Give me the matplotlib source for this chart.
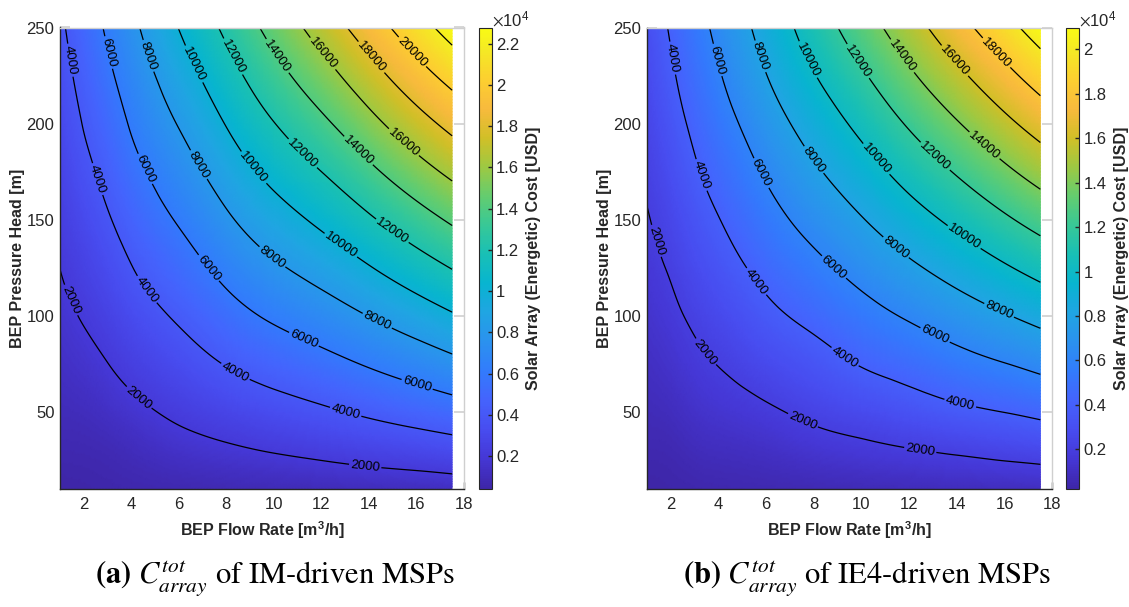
import numpy as np
import matplotlib
matplotlib.use("Agg")
import matplotlib.pyplot as plt
import matplotlib.tri as mtri
from matplotlib.colors import LinearSegmentedColormap
from matplotlib.ticker import FuncFormatter

plt.rcParams["font.family"] = ["Liberation Sans", "DejaVu Sans"]
plt.rcParams["mathtext.fontset"] = "stix"

# Data ────────────────────────────────────────────────────────────────────────
flow_rate = [1, 2, 3, 4, 6, 8, 10, 12, 14, 16, 17.5]              # m3/h
head = [10, 30, 50, 75, 100, 125, 150, 175, 200, 225, 250]        # m

# one row per flow rate, values along head (USD)
cost_im = [
    [420, 697, 974, 1320, 1667, 2010, 2350, 2690, 3030, 3370, 3710],
    [480, 720, 1092, 1604, 2112, 2605, 3099, 3592, 4077, 4526, 4975],
    [540, 837, 1347, 1985, 2610, 3235, 3858, 4463, 5063, 5663, 6247],
    [600, 1045, 1665, 2432, 3192, 3952, 4696, 5436, 6166, 6856, 7545],
    [700, 1480, 2279, 3249, 4219, 5189, 6159, 7129, 8099, 9069, 10039],
    [800, 1800, 2811, 4081, 5316, 6531, 7731, 8916, 10086, 11241, 12384],
    [880, 2096, 3296, 4796, 6276, 7731, 9161, 10566, 11951, 13316, 14667],
    [970, 2378, 3753, 5433, 7098, 8748, 10383, 12003, 13613, 15213, 16834],
    [1080, 2687, 4262, 6162, 8042, 9902, 11760, 13600, 15420, 17220, 19000],
    [1150, 2972, 4765, 6915, 9040, 11135, 13200, 15240, 17250, 19230, 21185],
    [1250, 3221, 5164, 7531, 9834, 12079, 14267, 16417, 18540, 20647, 22790],
]
cost_ie4 = [
    [220, 463, 705, 1008, 1310, 1613, 1915, 2184, 2439, 2694, 2953],
    [300, 521, 861, 1286, 1711, 2132, 2545, 2957, 3370, 3785, 4150],
    [360, 755, 1177, 1705, 2232, 2760, 3287, 3814, 4313, 4795, 5279],
    [420, 888, 1398, 2036, 2673, 3311, 3949, 4582, 5215, 5848, 6427],
    [500, 1082, 1801, 2706, 3611, 4484, 5337, 6197, 7077, 7958, 8690],
    [580, 1420, 2305, 3340, 4440, 5538, 6638, 7739, 8826, 9913, 10910],
    [660, 1680, 2740, 4091, 5348, 6623, 7903, 9188, 10478, 11763, 13043],
    [740, 1930, 3200, 4691, 6192, 7693, 9196, 10697, 12198, 13700, 15162],
    [820, 2180, 3660, 5361, 7044, 8744, 10449, 12159, 13869, 15574, 17270],
    [890, 2430, 4023, 5958, 7888, 9813, 11733, 13648, 15553, 17448, 19337],
    [940, 2620, 4353, 6453, 8543, 10623, 12693, 14753, 16808, 18858, 20900],
]

color_limits_im = (420, 22790)
color_limits_ie4 = (220, 20990)
contour_levels = list(range(2000, 24000, 2000))

# where the contour labels sit (flow rate, head)
labels_im = [(1.44, 108), (4.17, 55), (13.84, 21.4),
             (1.44, 233), (2.56, 171), (4.59, 113), (8.3, 69), (13.0, 49),
             (3.05, 237), (4.52, 176), (7.18, 124), (11.24, 87), (16.0, 63),
             (4.66, 235), (6.76, 178), (9.9, 130), (14.26, 95),
             (6.48, 230), (9.14, 177), (12.78, 136),
             (8.3, 235), (11.1, 183), (15.03, 145),
             (10.13, 235), (13.49, 185),
             (12.02, 236), (15.45, 190),
             (14.05, 234), (15.8, 237)]
labels_ie4 = [(1.4, 139), (3.44, 81), (7.56, 46), (12.45, 29),
              (2.04, 234), (3.23, 173), (5.61, 118), (9.3, 78.5), (14.14, 54.5),
              (3.93, 233), (5.76, 174), (8.82, 125), (13.01, 88),
              (5.76, 235), (7.98, 181), (11.41, 135), (15.74, 102),
              (7.71, 233), (10.57, 181), (14.41, 143),
              (9.8, 232), (13.05, 182.5),
              (11.69, 235), (15.11, 188),
              (13.85, 232),
              (15.67, 237)]

captions = [r"$\mathbf{(a)}$ $C_{array}^{tot}$ of IM-driven MSPs",
            r"$\mathbf{(b)}$ $C_{array}^{tot}$ of IE4-driven MSPs"]

# parula-like colormap
parula_anchors = [
    (0.2422, 0.1504, 0.6603), (0.2706, 0.2147, 0.8364), (0.2813, 0.3006, 0.9414),
    (0.2699, 0.3892, 0.9906), (0.1963, 0.4847, 0.9892), (0.1687, 0.5703, 0.9359),
    (0.1248, 0.6459, 0.8883), (0.0297, 0.7082, 0.8163), (0.0964, 0.7500, 0.7120),
    (0.2161, 0.7843, 0.5923), (0.3909, 0.8029, 0.4354), (0.6174, 0.7876, 0.2612),
    (0.8203, 0.7498, 0.1535), (0.9728, 0.7298, 0.2394), (0.9892, 0.8136, 0.1885),
    (0.9597, 0.9135, 0.1423), (0.9769, 0.9839, 0.0805)]
pos = [i * 4 / 63 for i in range(16)] + [1.0]
parula = LinearSegmentedColormap.from_list("parula", list(zip(pos, parula_anchors)), N=256)

DARK = "#262626"
LIGHT = "#cfcfcf"
W, H = 1129, 607


def px_box(l, t, r, b):
    return [l / W, 1 - b / H, (r - l) / W, (b - t) / H]


def smooth_field(cost):
    q = np.asarray(flow_rate, float)
    h = np.asarray(head, float)
    qq, hh = np.meshgrid(q, h)
    z = np.asarray(cost, float).T.ravel()
    # triangulate in normalised units so the cubic fit is not skewed
    qn = (qq.ravel() - q.min()) / (q.max() - q.min())
    hn = (hh.ravel() - h.min()) / (h.max() - h.min())
    tri_n = mtri.Triangulation(qn, hn)
    interp = mtri.CubicTriInterpolator(tri_n, z, kind="min_E")
    ref, zf = mtri.UniformTriRefiner(tri_n).refine_field(z, triinterpolator=interp, subdiv=4)
    xf = ref.x * (q.max() - q.min()) + q.min()
    yf = ref.y * (h.max() - h.min()) + h.min()
    return mtri.Triangulation(xf, yf, ref.triangles), zf


def draw_panel(ax_box, cb_box, cost, clim, label_pos, caption, cap_x):
    ax = fig.add_axes(px_box(*ax_box))
    tri, zf = smooth_field(cost)
    mesh = ax.tripcolor(tri, zf, shading="gouraud", cmap=parula, vmin=clim[0], vmax=clim[1])
    cs = ax.tricontour(tri, zf, levels=contour_levels, colors="k", linewidths=0.9)
    ax.clabel(cs, fmt="%d", fontsize=9.5, inline=True, inline_spacing=2, manual=label_pos)

    ax.set_xlim(1, 18)
    ax.set_ylim(10, 250)
    ax.set_xticks(range(2, 19, 2))
    ax.set_yticks(range(50, 251, 50))
    ax.set_axisbelow(True)
    ax.yaxis.set_ticks_position("both")
    ax.tick_params(axis="x", direction="in", length=5, width=1, color=DARK,
                   labelsize=12, labelcolor=DARK, pad=6)
    ax.tick_params(axis="y", direction="in", length=7, width=1.2, color=LIGHT,
                   labelsize=12, labelcolor=DARK, labelright=False, pad=4)
    for side in ("left", "bottom"):
        ax.spines[side].set_color(DARK)
        ax.spines[side].set_linewidth(1.0)
    for side in ("top", "right"):
        ax.spines[side].set_color(LIGHT)
        ax.spines[side].set_linewidth(1.0)
    ax.set_xlabel(r"BEP Flow Rate [m$^{\mathregular{3}}$/h]", fontsize=11.5,
                  fontweight="bold", color=DARK, labelpad=5)
    ax.set_ylabel("BEP Pressure Head [m]", fontsize=11.5, fontweight="bold",
                  color=DARK, labelpad=1)

    cax = fig.add_axes(px_box(*cb_box))
    cb = fig.colorbar(mesh, cax=cax)
    cb.set_ticks([v for v in contour_levels if clim[0] <= v <= clim[1]])
    cb.ax.yaxis.set_major_formatter(FuncFormatter(lambda v, p: f"{v / 1e4:g}"))
    cb.ax.tick_params(direction="in", length=3, width=1, color=DARK, labelsize=12,
                      labelcolor=DARK, pad=3)
    cb.outline.set_edgecolor(DARK)
    cb.outline.set_linewidth(0.8)
    cb.set_label("Solar Array (Energetic) Cost [USD]", fontsize=11.5, fontweight="bold",
                 color=DARK, labelpad=5)
    cax.text(1.0, 0.997, r"$\times\mathregular{10^{4}}$", transform=cax.transAxes,
             ha="left", va="bottom", fontsize=12, color=DARK)

    fig.text(cap_x / W, 1 - 578 / H, caption, ha="center", va="center",
             fontsize=22, family="STIXGeneral")
    return ax


fig = plt.figure(figsize=(W / 100, H / 100), dpi=100)
draw_panel((60, 27.5, 464, 488.5), (479, 27.5, 492, 488.5), cost_im,
           color_limits_im, labels_im, captions[0], 275)
draw_panel((646.8, 27.5, 1052.3, 488.8), (1066, 27.5, 1079.3, 488.8), cost_ie4,
           color_limits_ie4, labels_ie4, captions[1], 867)

fig.savefig("out.png", dpi=100)
